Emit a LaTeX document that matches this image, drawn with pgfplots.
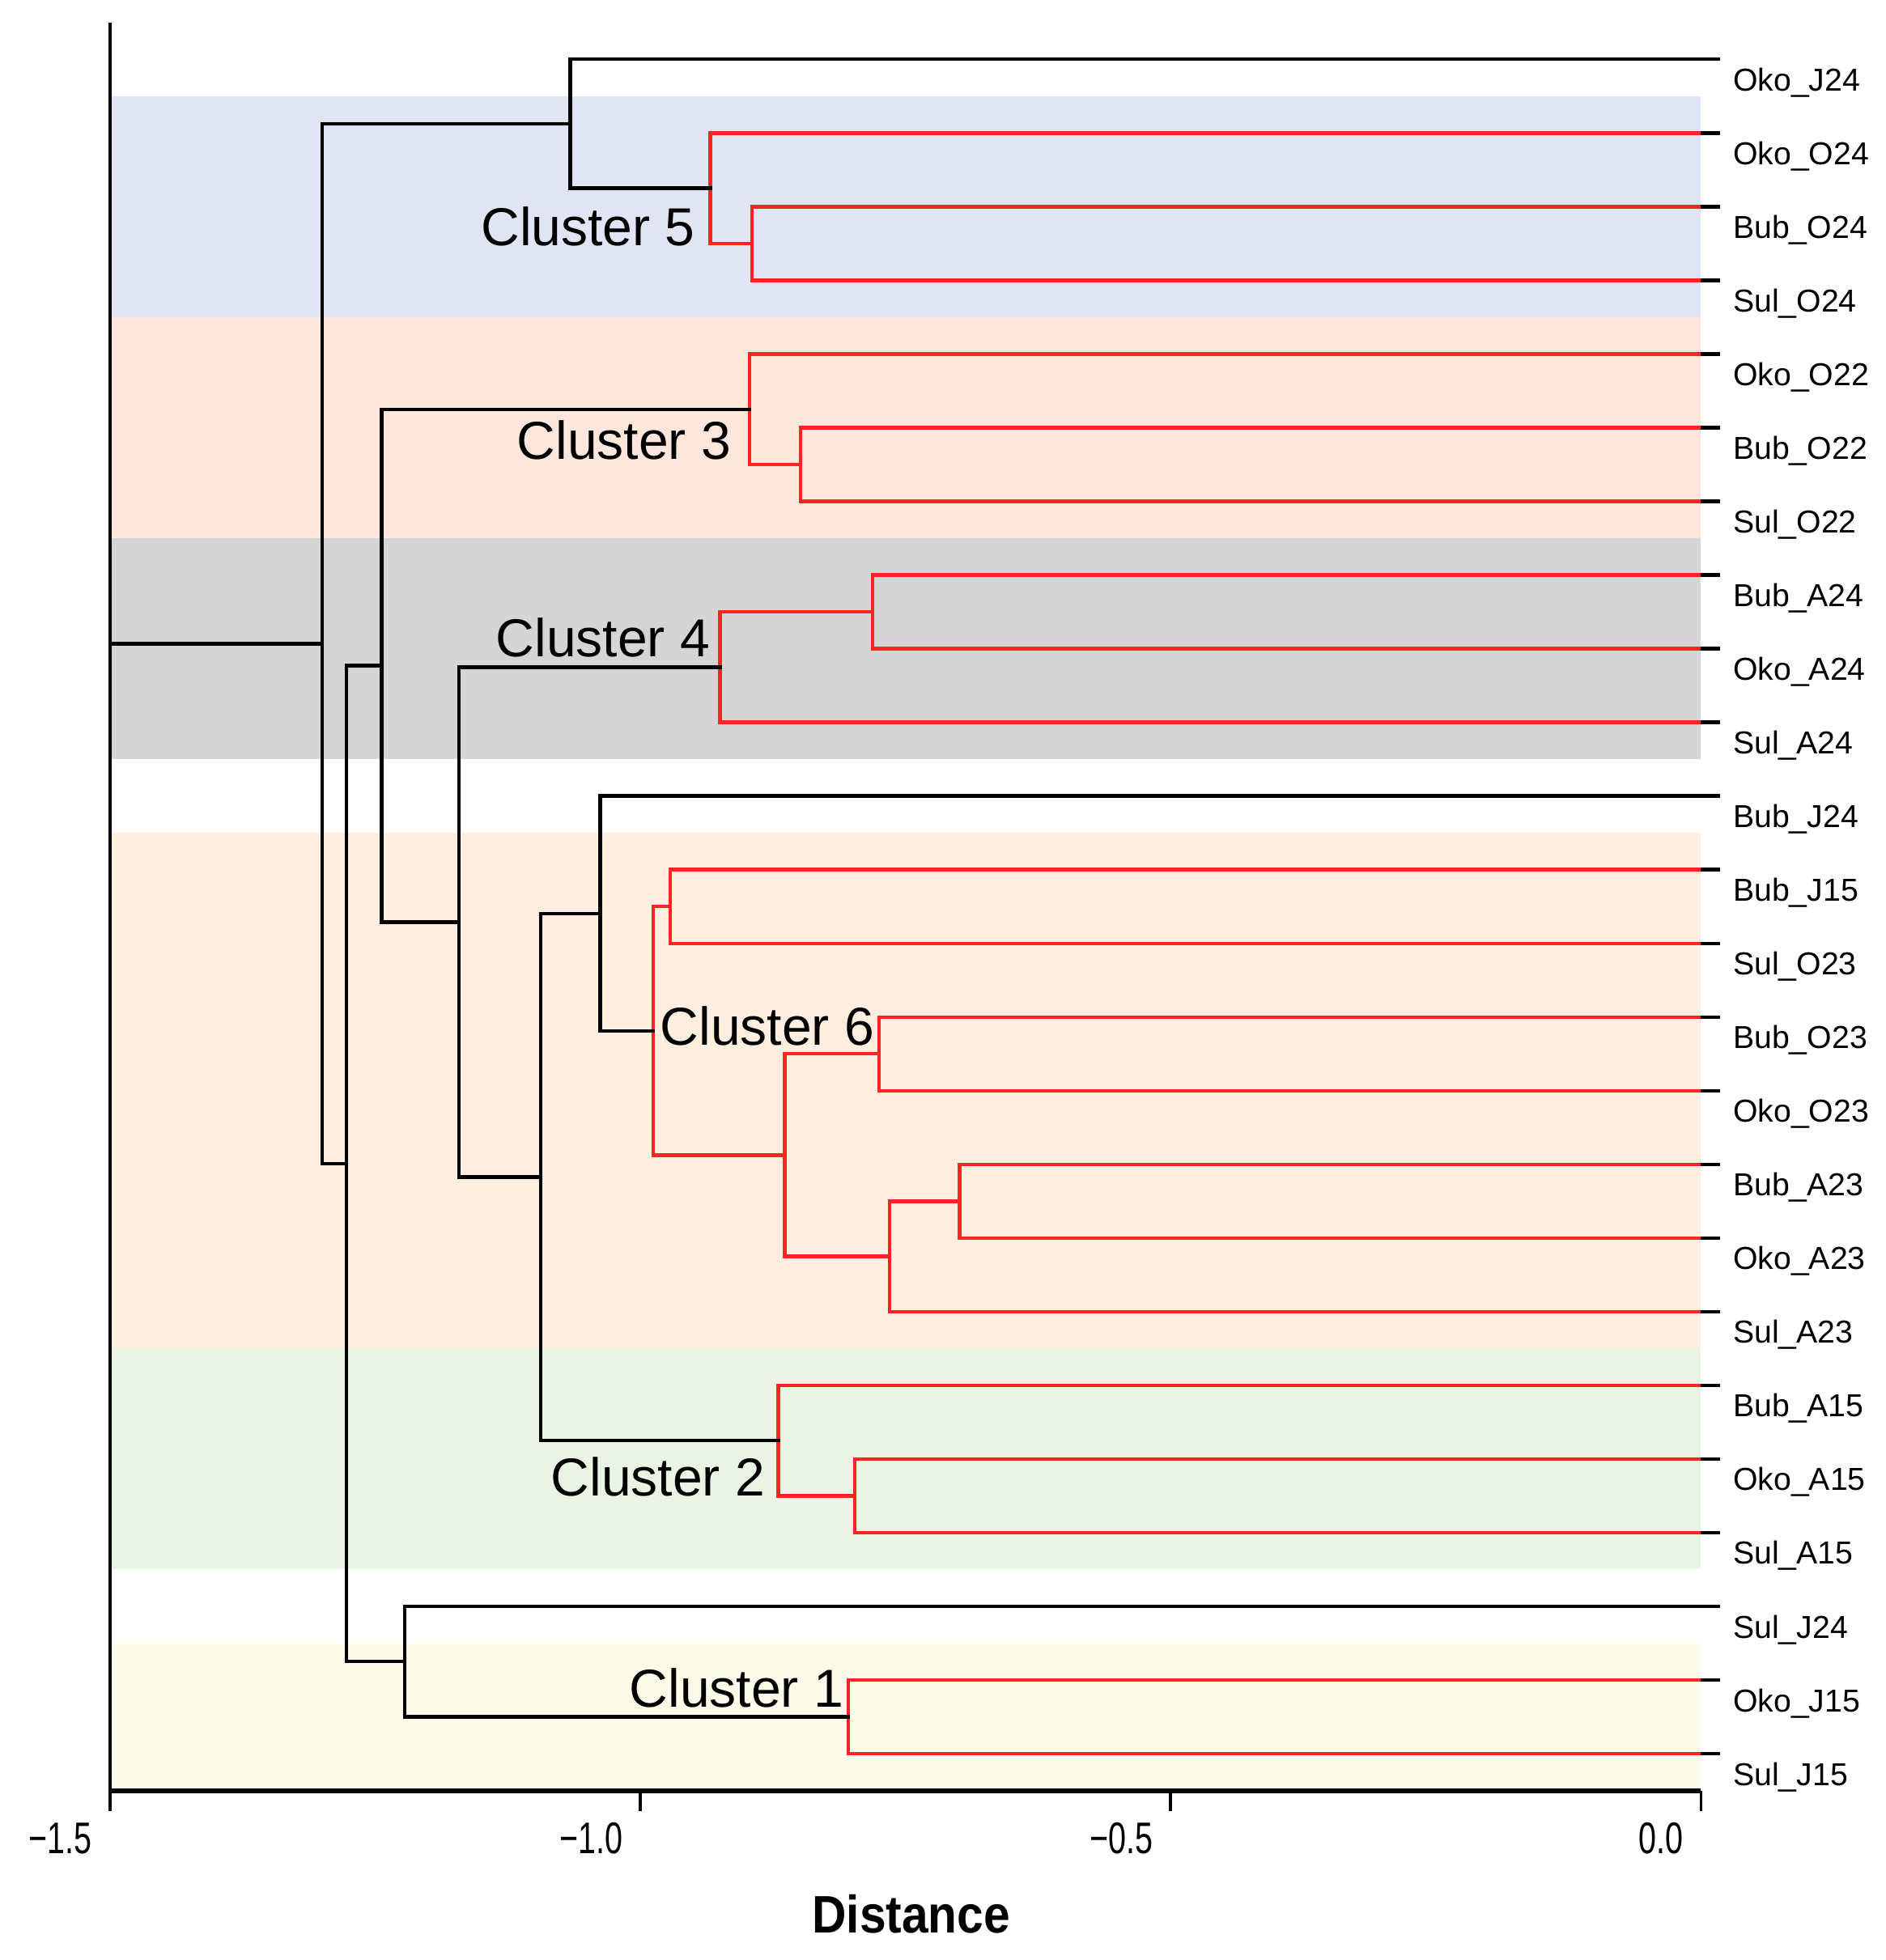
\documentclass[border=0pt]{standalone}
\usepackage{pgfplots}
\pgfplotsset{compat=1.18}
\usepackage{fontspec}
\setmainfont{Liberation Sans}
\definecolor{cred}{HTML}{FF2424}
\definecolor{cfive}{HTML}{E1E4F2}
\definecolor{cthree}{HTML}{FDE7DC}
\definecolor{cfour}{HTML}{D6D5D6}
\definecolor{csix}{HTML}{FDEEE0}
\definecolor{ctwo}{HTML}{E9F4E4}
\definecolor{cone}{HTML}{FCFBE9}
\begin{document}
\begin{tikzpicture}[
  tree/.style={line width=1.1pt, line join=miter, line cap=rect},
  leaflab/.style={anchor=base west, inner sep=0pt, xshift=9.75pt, yshift=-9.75pt, font=\fontsize{9.8}{11}\selectfont},
  clab/.style={anchor=east, inner sep=0pt, font=\fontsize{16.5}{18}\selectfont},
]
\begin{axis}[
  scale only axis, width=491.35pt, height=546.2pt,
  xmin=-1.5, xmax=0, ymin=0.5, ymax=24.5,
  axis x line=bottom, axis y line=left,
  axis line style={-},
  x axis line style={line width=1.45pt},
  y axis line style={line width=1pt},
  xtick={-1.5,-1,-0.5,0},
  xticklabels={−1.5,−1.0,−0.5,0.0},
  tick align=outside, major tick length=6.25pt,
  xtick style={line width=0.9pt, black},
  ytick=\empty,
  xticklabel style={font=\fontsize{13.7}{15}\selectfont, xscale=0.72, anchor=north east, inner sep=0pt, xshift=-7.5pt, yshift=-3.5pt},
  clip=false, axis on top,
  xlabel={\textbf{Distance}},
  xlabel style={at={(axis description cs:0.5,0)}, anchor=base, yshift=-44pt, xshift=1.75pt, font=\fontsize{16.3}{18}\selectfont, xscale=0.9, inner sep=0pt},
]
% cluster bands
\addplot[fill=cfive, draw=none] coordinates {(-1.5,20.5) (0,20.5) (0,23.5) (-1.5,23.5)} -- cycle;
\addplot[fill=cthree, draw=none] coordinates {(-1.5,17.5) (0,17.5) (0,20.5) (-1.5,20.5)} -- cycle;
\addplot[fill=cfour, draw=none] coordinates {(-1.5,14.5) (0,14.5) (0,17.5) (-1.5,17.5)} -- cycle;
\addplot[fill=csix, draw=none] coordinates {(-1.5,6.5) (0,6.5) (0,13.5) (-1.5,13.5)} -- cycle;
\addplot[fill=ctwo, draw=none] coordinates {(-1.5,3.5) (0,3.5) (0,6.5) (-1.5,6.5)} -- cycle;
\addplot[fill=cone, draw=none] coordinates {(-1.5,0.5) (0,0.5) (0,2.5) (-1.5,2.5)} -- cycle;

% red (within-cluster) merges
% Cluster 5
\addplot[tree, cred] coordinates {(0,22) (-0.895,22) (-0.895,21) (0,21)};
\addplot[tree, cred] coordinates {(0,23) (-0.934,23) (-0.934,21.5) (-0.895,21.5)};
% Cluster 3
\addplot[tree, cred] coordinates {(0,19) (-0.849,19) (-0.849,18) (0,18)};
\addplot[tree, cred] coordinates {(0,20) (-0.897,20) (-0.897,18.5) (-0.849,18.5)};
% Cluster 4
\addplot[tree, cred] coordinates {(0,17) (-0.781,17) (-0.781,16) (0,16)};
\addplot[tree, cred] coordinates {(-0.781,16.5) (-0.925,16.5) (-0.925,15) (0,15)};
% Cluster 6
\addplot[tree, cred] coordinates {(0,13) (-0.972,13) (-0.972,12) (0,12)};
\addplot[tree, cred] coordinates {(0,11) (-0.775,11) (-0.775,10) (0,10)};
\addplot[tree, cred] coordinates {(0,9) (-0.699,9) (-0.699,8) (0,8)};
\addplot[tree, cred] coordinates {(-0.699,8.5) (-0.765,8.5) (-0.765,7) (0,7)};
\addplot[tree, cred] coordinates {(-0.775,10.5) (-0.864,10.5) (-0.864,7.75) (-0.765,7.75)};
\addplot[tree, cred] coordinates {(-0.972,12.5) (-0.988,12.5) (-0.988,9.125) (-0.864,9.125)};
% Cluster 2
\addplot[tree, cred] coordinates {(0,5) (-0.798,5) (-0.798,4) (0,4)};
\addplot[tree, cred] coordinates {(0,6) (-0.870,6) (-0.870,4.5) (-0.798,4.5)};
% Cluster 1
\addplot[tree, cred] coordinates {(0,2) (-0.804,2) (-0.804,1) (0,1)};

% black (between-cluster) merges
\addplot[tree, black] coordinates {(0,24) (-1.066,24) (-1.066,22.25) (-0.934,22.25)};
\addplot[tree, black] coordinates {(0,14) (-1.038,14) (-1.038,10.8125) (-0.988,10.8125)};
\addplot[tree, black] coordinates {(-1.038,12.40625) (-1.094,12.40625) (-1.094,5.25) (-0.870,5.25)};
\addplot[tree, black] coordinates {(-0.925,15.75) (-1.171,15.75) (-1.171,8.828125) (-1.094,8.828125)};
\addplot[tree, black] coordinates {(-0.897,19.25) (-1.244,19.25) (-1.244,12.2890625) (-1.171,12.2890625)};
\addplot[tree, black] coordinates {(0,3) (-1.222,3) (-1.222,1.5) (-0.804,1.5)};
\addplot[tree, black] coordinates {(-1.244,15.76953) (-1.277,15.76953) (-1.277,2.25) (-1.222,2.25)};
\addplot[tree, black] coordinates {(-1.066,23.125) (-1.300,23.125) (-1.300,9.00977) (-1.277,9.00977)};
\addplot[tree, black] coordinates {(-1.5,16.0674) (-1.300,16.0674)};

% leaf ticks
\addplot[xcomb, black, line width=1.1pt] coordinates {
 (0.018,1) (0.018,2) (0.018,3) (0.018,4) (0.018,5) (0.018,6) (0.018,7) (0.018,8)
 (0.018,9) (0.018,10) (0.018,11) (0.018,12) (0.018,13) (0.018,14) (0.018,15) (0.018,16)
 (0.018,17) (0.018,18) (0.018,19) (0.018,20) (0.018,21) (0.018,22) (0.018,23) (0.018,24)};

% leaf labels
\node[leaflab] at (axis cs:0,24) {Oko\_J24};
\node[leaflab] at (axis cs:0,23) {Oko\_O24};
\node[leaflab] at (axis cs:0,22) {Bub\_O24};
\node[leaflab] at (axis cs:0,21) {Sul\_O24};
\node[leaflab] at (axis cs:0,20) {Oko\_O22};
\node[leaflab] at (axis cs:0,19) {Bub\_O22};
\node[leaflab] at (axis cs:0,18) {Sul\_O22};
\node[leaflab] at (axis cs:0,17) {Bub\_A24};
\node[leaflab] at (axis cs:0,16) {Oko\_A24};
\node[leaflab] at (axis cs:0,15) {Sul\_A24};
\node[leaflab] at (axis cs:0,14) {Bub\_J24};
\node[leaflab] at (axis cs:0,13) {Bub\_J15};
\node[leaflab] at (axis cs:0,12) {Sul\_O23};
\node[leaflab] at (axis cs:0,11) {Bub\_O23};
\node[leaflab] at (axis cs:0,10) {Oko\_O23};
\node[leaflab] at (axis cs:0,9) {Bub\_A23};
\node[leaflab] at (axis cs:0,8) {Oko\_A23};
\node[leaflab] at (axis cs:0,7) {Sul\_A23};
\node[leaflab] at (axis cs:0,6) {Bub\_A15};
\node[leaflab] at (axis cs:0,5) {Oko\_A15};
\node[leaflab] at (axis cs:0,4) {Sul\_A15};
\node[leaflab] at (axis cs:0,3) {Sul\_J24};
\node[leaflab] at (axis cs:0,2) {Oko\_J15};
\node[leaflab] at (axis cs:0,1) {Sul\_J15};

% cluster labels
\node[clab] at (axis cs:-0.948,21.73) {Cluster 5};
\node[clab] at (axis cs:-0.914,18.83) {Cluster 3};
\node[clab] at (axis cs:-0.934,16.15) {Cluster 4};
\node[clab] at (axis cs:-0.779,10.88) {Cluster 6};
\node[clab] at (axis cs:-0.882,4.76) {Cluster 2};
\node[clab] at (axis cs:-0.808,1.89) {Cluster 1};

\coordinate (bl) at (rel axis cs:0,0);
\coordinate (tr) at (rel axis cs:1,1);
\end{axis}
\pgfresetboundingbox
\path ([shift={(-34pt,-52.35pt)}]bl) rectangle ([shift={(57.15pt,6.95pt)}]tr);
\end{tikzpicture}
\end{document}
